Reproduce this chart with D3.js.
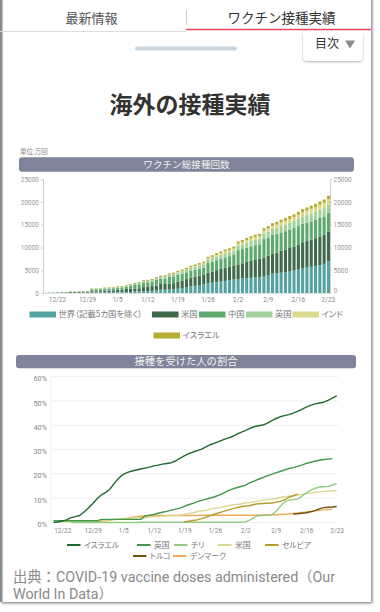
<!DOCTYPE html>
<html><head><meta charset="utf-8">
<script src="https://cdn.jsdelivr.net/npm/d3@7"></script>
<style>
html,body{margin:0;padding:0;background:#fff;}
body{width:380px;height:612px;overflow:hidden;}
svg{display:block;font-family:Roboto,"Noto Sans CJK JP",sans-serif;}
.palt{font-feature-settings:"palt";}
</style></head><body>
<svg id="c" width="380" height="612"></svg>
<script>
// ---------- DATA ----------
const firstDay = new Date(2020, 11, 19), lastDay = new Date(2021, 1, 23);
const tickLabels = ["12/22","12/29","1/5","1/12","1/19","1/26","2/2","2/9","2/16","2/23"];
const yTicks1 = [0, 5000, 10000, 15000, 20000, 25000];
const yTicks2 = [0, 10, 20, 30, 40, 50, 60];

// Chart 1: cumulative doses (万回), 12/19 .. 2/23
const barKeys = ["世界（記載5カ国を除く）","米国","中国","英国","インド","イスラエル"];
const barColors = ["#55a3a0","#3f6a4b","#5eaa6e","#a2d19c","#dcd98c","#b4ae36"];
const worldDoses = [20,25,30,35,40,45,50,55,60,70,80,90,100,110,120,130,150,170,190,210,230,330,350,400,430,480,550,720,740,800,900,950,1100,1300,1450,1600,1750,1900,2100,2250,2400,2550,2650,2800,2950,3050,3150,3250,3350,3400,3450,3600,3850,4250,4300,4450,4550,4700,4950,5150,5500,5600,5750,5900,6100,6400,7000];
const usDoses = [0,56,61,100,100,100,194,194,194,213,213,279,279,279,428,428,428,531,531,668,668,668,668,900,928,1030,1110,1260,1260,1260,1260,1560,1650,1750,1940,2000,2100,2200,2340,2450,2620,2750,2900,3000,3120,3260,3380,3610,3790,4010,4100,4200,4320,4450,4600,4820,5000,5200,5280,5520,5660,5820,5980,6150,6340,6400,6530];
const chinaDoses = [0,0,0,0,0,0,0,0,0,0,0,450,450,450,450,450,450,500,500,500,700,900,900,1000,1000,1000,1200,1200,1200,1500,1500,1500,1500,1500,1500,1500,1500,1500,2200,2200,2200,2200,2280,2280,2280,3120,3120,3120,3120,3120,3120,4050,4050,4050,4050,4050,4050,4050,4050,4050,4050,4050,4050,4050,4050,4050,4050];
const ukDoses = [35,50,50,50,50,50,50,50,94,94,94,94,94,94,94,139,139,139,139,139,139,139,280,300,320,340,370,400,430,460,480,510,540,580,640,680,710,730,760,800,850,900,950,960,1000,1030,1070,1120,1170,1220,1230,1250,1300,1340,1390,1440,1490,1530,1560,1600,1640,1680,1720,1760,1790,1820,1840];
const indiaDoses = [0,0,0,0,0,0,0,0,0,0,0,0,0,0,0,0,0,0,0,0,0,0,0,0,0,0,0,0,19,22,40,63,81,104,140,158,160,200,200,230,300,330,370,375,390,410,450,490,540,570,580,600,620,660,700,750,790,800,820,870,900,960,1000,1040,1100,1150,1200];
const israelDoses = [0,1,3,7,12,20,28,35,45,55,65,80,95,105,115,125,135,145,155,170,180,190,200,210,220,230,240,250,260,270,280,300,310,320,330,340,350,360,370,380,390,400,420,430,440,450,470,490,510,520,530,550,570,590,600,620,630,640,660,670,690,700,710,720,730,740,760];

// Chart 2: share of people vaccinated (%), each series with its first date
const lineNames = ["イスラエル","英国","チリ","米国","セルビア","トルコ","デンマーク"];
const lineColors = ["#1f6a2f","#3f9a4b","#92cc82","#dcd892","#b79a2f","#6e5212","#eeaa58"];
const israelPct = [0.1,0.2,0.6,1.1,2.0,2.4,2.9,4.3,6.0,7.8,9.8,11.4,12.4,13.8,16.3,18.3,19.8,20.6,21.2,21.6,22.0,22.4,22.8,23.3,23.6,24.0,24.3,24.6,25.3,26.4,27.4,28.3,29.0,29.6,30.2,31.1,32.0,32.7,33.4,34.1,34.7,35.3,36.3,37.1,37.8,38.6,39.4,39.8,40.1,40.8,41.8,42.7,43.5,44.0,44.4,45.0,45.7,46.6,47.5,48.2,48.8,49.2,49.5,50.3,51.2,52.1];
const ukPct = [0.7,0.7,0.7,0.7,0.7,0.7,0.7,0.7,0.7,0.7,0.7,1.3,1.3,1.3,1.3,1.3,1.3,1.3,1.3,1.3,1.3,2.7,3.0,3.3,3.8,4.2,4.6,5.1,5.5,5.9,6.6,7.3,7.9,8.6,9.1,9.6,10.1,10.6,11.3,12.1,13.0,13.7,14.3,14.8,15.3,16.3,17.0,17.8,18.4,19.2,19.8,20.4,21.0,21.6,22.2,22.6,23.1,23.6,24.3,24.8,25.2,25.6,25.9,26.1,26.3];
const chilePct = [0,0,0,0,0,0,0,0,0,0,0,0,0,0,0,0,0.1,0.1,0.1,0.1,0.1,0.1,0.1,0.1,0.1,0.1,0.1,0.1,0.1,0.1,0.1,0.1,0.1,0.1,0.1,0.1,0.1,0.1,0.1,0.1,0.2,1.0,2.0,2.8,2.9,3.0,3.1,4.4,6.5,8.5,9.2,9.4,9.6,10.8,12.2,13.2,14.0,14.6,14.7,14.8,15.4,16.0];
const usPct = [0.05,0.1,0.2,0.3,0.3,0.6,0.6,0.6,0.65,0.7,0.8,0.85,0.85,1.3,1.3,1.3,1.5,1.6,1.8,1.9,2.0,2.0,2.1,2.3,2.4,2.6,2.8,2.9,3.0,3.1,3.3,3.6,4.0,4.5,4.8,5.0,5.5,5.8,6.1,6.4,6.9,7.2,7.4,7.6,8.0,8.2,8.5,8.8,9.2,9.4,9.6,9.9,10.3,10.6,10.8,11.0,11.3,11.5,11.8,12.1,12.4,12.6,12.8,12.9,13.0,13.1];
const serbiaPct = [0.3,0.5,0.8,1.1,1.6,2.2,2.8,3.4,4.0,4.6,5.1,5.6,6.1,6.5,6.8,6.9,7.4,7.7,7.8,7.9,8.0,8.3,8.7,9.3,10.4,11.0,11.7];
const turkeyPct = [3.5,3.6,3.8,4.0,4.4,4.9,5.6,6.1,6.3,6.4,6.6,7.4];
const denmarkPct = [0.05,0.1,0.2,0.3,0.5,0.7,1.0,1.2,1.4,1.6,1.8,2.1,2.4,2.6,2.7,2.8,2.9,2.9,2.9,2.9,2.9,2.9,2.9,2.9,2.9,2.9,2.9,3.0,3.0,3.0,3.0,3.0,3.0,3.0,3.0,3.0,3.0,3.0,3.0,3.0,3.1,3.1,3.2,3.2,3.2,3.3,3.4,3.5,3.7,3.9,4.1,4.3,4.6,4.8,5.0,5.2,5.3,5.4];
const lineStarts = ["12/20","12/20","12/24","12/20","1/19","2/13","12/27"];

// ---------- DRAW ----------
const dates = d3.timeDay.range(firstDay, d3.timeDay.offset(lastDay, 1));
const fmt = d3.timeFormat("%-m/%-d");
const dateLabels = dates.map(fmt);

const svg = d3.select("#c");
const defs = svg.append("defs");
const f = defs.append("filter").attr("id","sh").attr("x","-10%").attr("y","-10%").attr("width","130%").attr("height","130%");
f.append("feDropShadow").attr("dx",1.5).attr("dy",1.5).attr("stdDeviation",1.2).attr("flood-color","#000").attr("flood-opacity",0.45);
const f2 = defs.append("filter").attr("id","sh2").attr("x","-20%").attr("y","-20%").attr("width","140%").attr("height","160%");
f2.append("feDropShadow").attr("dx",0).attr("dy",1).attr("stdDeviation",1.2).attr("flood-color","#000").attr("flood-opacity",0.3);

// page frame
svg.append("rect").attr("x",0).attr("y",0).attr("width",380).attr("height",612).attr("fill","#fff");
svg.append("rect").attr("x",0).attr("y",-6).attr("width",371).attr("height",608).attr("fill","#fff").attr("filter","url(#sh)");
svg.append("rect").attr("x",0).attr("y",0).attr("width",2.5).attr("height",602).attr("fill","#8a8a8a");

const JP = '"Noto Sans CJK JP",sans-serif';
// header tabs
svg.append("line").attr("x1",0).attr("x2",186).attr("y1",31.5).attr("y2",31.5).attr("stroke","#ddd");
svg.append("line").attr("x1",186.5).attr("x2",186.5).attr("y1",10).attr("y2",25).attr("stroke","#ccc");
svg.append("line").attr("x1",186).attr("x2",371).attr("y1",29.5).attr("y2",29.5).attr("stroke","#e9475f").attr("stroke-width",1.5);
svg.append("text").attr("x",91.5).attr("y",18.5).attr("dy","0.35em").attr("text-anchor","middle")
  .style("font-family",JP).style("font-size","13px").attr("fill","#555").text("最新情報");
svg.append("text").attr("x",281.5).attr("y",18.5).attr("dy","0.35em").attr("text-anchor","middle")
  .style("font-family",JP).style("font-size","13.5px").attr("fill","#333").text("ワクチン接種実績");
svg.append("rect").attr("x",135).attr("y",46.5).attr("width",102).attr("height",4).attr("rx",2).attr("fill","#c9d5de");
svg.append("rect").attr("x",303).attr("y",31).attr("width",60).attr("height",30).attr("rx",4).attr("fill","#fff").attr("filter","url(#sh2)");
svg.append("text").attr("x",315).attr("y",44).attr("dy","0.35em")
  .style("font-family",JP).style("font-size","12px").attr("fill","#333").text("目次");
svg.append("path").attr("d","M345,40.5L355,40.5L350,48.5Z").attr("fill","#8a8a8a");

svg.append("text").attr("x",190).attr("y",105).attr("dy","0.35em").attr("text-anchor","middle")
  .style("font-family",JP).style("font-size","23px").style("font-weight","bold").attr("fill","#333").text("海外の接種実績");

svg.append("text").attr("x",20).attr("y",152).attr("dy","0.35em")
  .style("font-family",JP).style("font-size","6.5px").attr("fill","#888").text("単位:万回");

function titleBar(x0, x1, y0, h, label, fs){
  svg.append("rect").attr("x",x0).attr("y",y0).attr("width",x1-x0).attr("height",h).attr("rx",3).attr("fill","#7f849a");
  svg.append("text").attr("x",(x0+x1)/2).attr("y",y0+h/2).attr("dy","0.35em").attr("text-anchor","middle")
    .style("font-family",JP).style("font-size",fs+"px").attr("fill","#f2f2f2").text(label);
}
titleBar(19, 354, 157.3, 14.4, "ワクチン総接種回数", 9.6);

// ----- Chart 1 -----
const rows = dateLabels.map((d,i)=>{
  const r = {date:d};
  [worldDoses,usDoses,chinaDoses,ukDoses,indiaDoses,israelDoses].forEach((arr,k)=>{ r[barKeys[k]] = arr[i]; });
  return r;
});
const stacked = d3.stack().keys(barKeys)(rows);
const x1 = d3.scaleBand().domain(dateLabels).range([43,330]).paddingInner(0.28).paddingOuter(0);
const y1 = d3.scaleLinear().domain([0,25000]).range([293,179.3]);
const g1 = svg.append("g");
g1.selectAll("g.s").data(stacked).join("g").attr("fill",(d,i)=>barColors[i])
  .selectAll("rect").data(d=>d).join("rect")
  .attr("x",d=>x1(d.data.date)).attr("width",x1.bandwidth())
  .attr("y",d=>y1(d[1])).attr("height",d=>Math.max(0,y1(d[0])-y1(d[1])));

function styleAxis(g, fs, col){
  g.selectAll("path.domain").attr("stroke","#cfcfcf");
  g.selectAll(".tick line").attr("stroke","#cfcfcf");
  g.selectAll("text").style("font-size",fs+"px").attr("fill",col).style("font-family","Roboto,sans-serif");
}
const ax1L = svg.append("g").attr("transform","translate(43,0)")
  .call(d3.axisLeft(y1).tickValues(yTicks1).tickSize(2).tickPadding(2).tickFormat(d3.format("d")));
styleAxis(ax1L, 6.5, "#999");
const ax1R = svg.append("g").attr("transform","translate(330,0)")
  .call(d3.axisRight(y1).tickValues(yTicks1).tickSize(2).tickPadding(1.5).tickFormat(d3.format("d")));
styleAxis(ax1R, 6.5, "#999");
ax1R.selectAll(".tick text").filter(d=>d===0).attr("dy","-0.1em");
const ax1B = svg.append("g").attr("transform","translate(0,293)")
  .call(d3.axisBottom(x1).tickValues(tickLabels).tickSize(0).tickPadding(4.5));
styleAxis(ax1B, 6.5, "#888");
ax1B.select("path.domain").attr("stroke","#e2e2e2");

// legend 1
const leg1 = [
  {k:0,sx:29.5,y:314.5},{k:1,sx:152,y:314.5},{k:2,sx:199,y:314.5},{k:3,sx:246,y:314.5},{k:4,sx:292.5,y:314.5},{k:5,sx:153.5,y:335.5}
];
leg1.forEach(o=>{
  svg.append("rect").attr("x",o.sx).attr("y",o.y-3).attr("width",26.5).attr("height",6).attr("fill",barColors[o.k]);
  svg.append("text").attr("class","palt").attr("x",o.sx+29).attr("y",o.y).attr("dy","0.35em")
    .style("font-family",JP).style("font-size","8.3px").attr("fill","#777").text(barKeys[o.k]);
});

// ----- Chart 2 -----
titleBar(16, 356, 355, 13.3, "接種を受けた人の割合", 10.3);
const x2 = d3.scalePoint().domain(dateLabels).range([49.2,336.7]);
const y2 = d3.scaleLinear().domain([0,60]).range([522.5,376.7]);
const g2 = svg.append("g");
g2.selectAll("line.grid").data(yTicks2).join("line")
  .attr("x1",51).attr("x2",338).attr("y1",d=>y2(d)).attr("y2",d=>y2(d)).attr("stroke","#efefef").attr("stroke-width",1);
g2.append("line").attr("x1",51).attr("x2",51).attr("y1",376.7).attr("y2",522.5).attr("stroke","#f2f2f2");
const ax2L = svg.append("g").attr("transform","translate(49,0)")
  .call(d3.axisLeft(y2).tickValues(yTicks2).tickSize(0).tickPadding(2).tickFormat(d=>d+"%"));
ax2L.select("path.domain").remove();
styleAxis(ax2L, 7.3, "#888");
ax2L.selectAll("text").attr("dy","0.55em");
const ax2B = svg.append("g").attr("transform","translate(0,522.5)")
  .call(d3.axisBottom(x2).tickValues(tickLabels).tickSize(0).tickPadding(5.5));
ax2B.select("path.domain").remove();
styleAxis(ax2B, 6.5, "#888");

const seriesVals = [israelPct, ukPct, chilePct, usPct, serbiaPct, turkeyPct, denmarkPct];
const line = d3.line().x(d=>x2(d.date)).y(d=>y2(d.v));
const drawOrder = [6,3,2,4,5,1,0];
drawOrder.forEach(k=>{
  const s0 = dateLabels.indexOf(lineStarts[k]);
  const pts = seriesVals[k].map((v,i)=>({date:dateLabels[s0+i], v}));
  g2.append("path").datum(pts).attr("d",line).attr("fill","none")
    .attr("stroke",lineColors[k]).attr("stroke-width",1.4).attr("stroke-linejoin","round");
});

// legend 2
const leg2 = [
  {k:0,sx:67,y:545},{k:1,sx:137,y:545},{k:2,sx:174,y:545},{k:3,sx:218,y:545},{k:4,sx:265,y:545},
  {k:5,sx:133,y:556},{k:6,sx:173,y:556}
];
leg2.forEach(o=>{
  svg.append("line").attr("x1",o.sx).attr("x2",o.sx+13.5).attr("y1",o.y).attr("y2",o.y)
    .attr("stroke",lineColors[o.k]).attr("stroke-width",2);
  svg.append("text").attr("class","palt").attr("x",o.sx+17).attr("y",o.y).attr("dy","0.35em")
    .style("font-family",JP).style("font-size","7.8px").attr("fill","#777").text(lineNames[o.k]);
});

// footer
const ft = svg.append("text").style("font-family",'Roboto,"Noto Sans CJK JP",sans-serif').style("font-size","14.3px").attr("fill","#8a8a8a");
ft.append("tspan").attr("x",13).attr("y",581.5).text("出典：COVID-19 vaccine doses administered（Our");
ft.append("tspan").attr("x",13).attr("y",598.5).text("World In Data）");
</script></body></html>
